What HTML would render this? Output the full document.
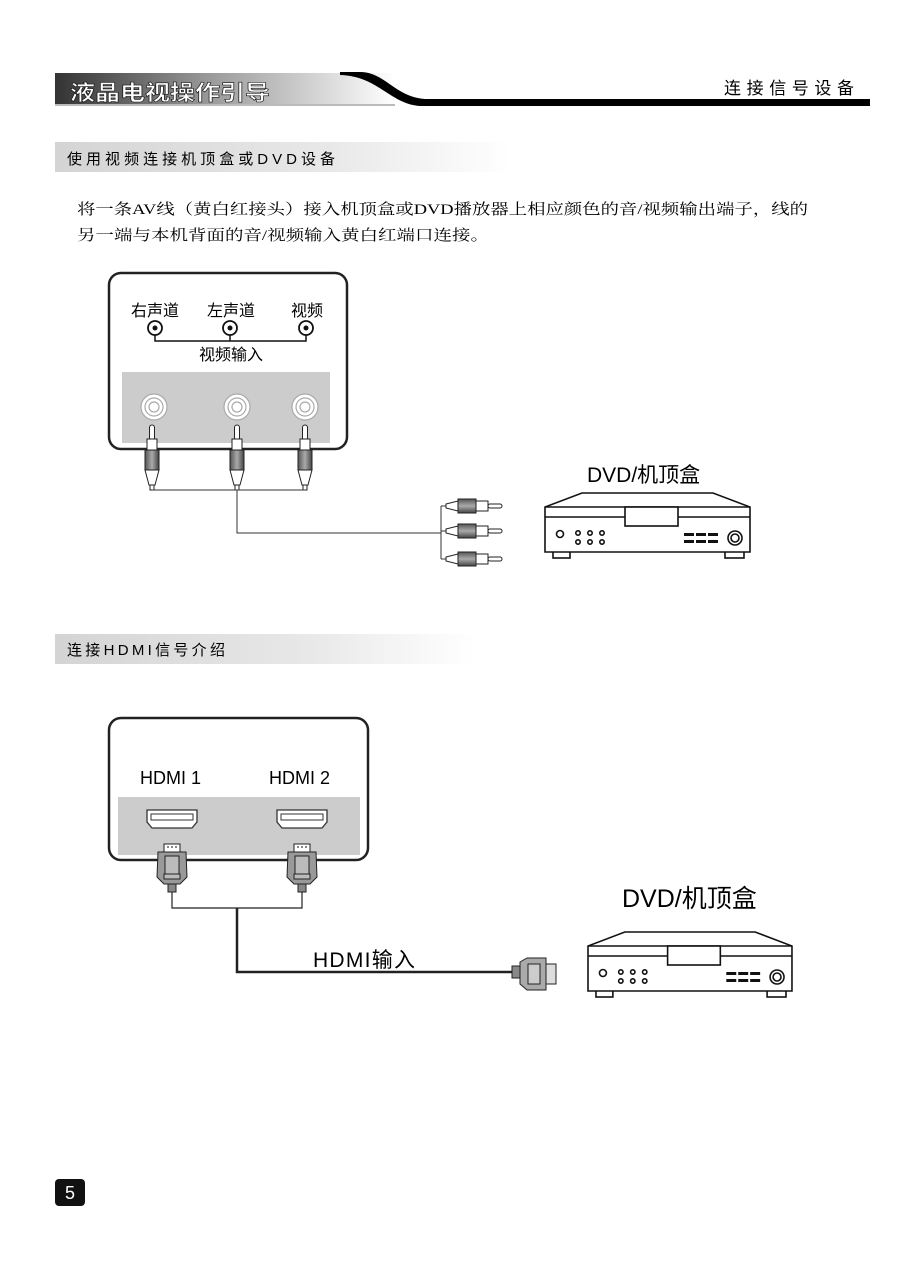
<!DOCTYPE html>
<html><head><meta charset="utf-8"><style>
html,body{margin:0;padding:0;background:#fff}
svg{display:block}
text{font-family:"Liberation Sans","Noto Sans CJK SC",sans-serif}
.serif{font-family:"Liberation Serif","Noto Serif CJK SC",serif}
</style></head><body>
<svg width="922" height="1276" viewBox="0 0 922 1276" xmlns="http://www.w3.org/2000/svg">
<defs>
<linearGradient id="hg" x1="0" x2="1"><stop offset="0" stop-color="#333"/><stop offset="0.45" stop-color="#999"/><stop offset="1" stop-color="#fff"/></linearGradient>
<linearGradient id="sg" x1="0" x2="1"><stop offset="0" stop-color="#d4d4d4"/><stop offset="0.6" stop-color="#e8e8e8"/><stop offset="1" stop-color="#fff"/></linearGradient>
<linearGradient id="rib" x1="0" x2="1"><stop offset="0" stop-color="#555"/><stop offset="0.5" stop-color="#aaa"/><stop offset="1" stop-color="#444"/></linearGradient>
<linearGradient id="ribh" x1="0" y1="0" x2="0" y2="1"><stop offset="0" stop-color="#555"/><stop offset="0.5" stop-color="#aaa"/><stop offset="1" stop-color="#444"/></linearGradient>
<g id="dvd" fill="#fff" stroke="#111" stroke-width="1.6">
<rect x="8" y="61" width="17" height="7"/><rect x="180" y="61" width="19" height="7"/>
<path d="M37 3 L168 3 L205 17 L205 62 L0 62 L0 17 Z"/>
<line x1="0" y1="17" x2="205" y2="17"/><line x1="0" y1="27" x2="205" y2="27"/>
<rect x="80" y="17" width="53" height="19"/>
<circle cx="15" cy="44" r="3.5"/>
<circle cx="33" cy="43" r="2.2"/><circle cx="45" cy="43" r="2.2"/><circle cx="57" cy="43" r="2.2"/>
<circle cx="33" cy="52" r="2.2"/><circle cx="45" cy="52" r="2.2"/><circle cx="57" cy="52" r="2.2"/>
<circle cx="190" cy="48" r="7"/><circle cx="190" cy="48" r="4"/>
<g fill="#111" stroke="none"><rect x="139" y="43" width="10" height="3"/><rect x="151" y="43" width="10" height="3"/><rect x="163" y="43" width="10" height="3"/>
<rect x="139" y="50" width="10" height="3"/><rect x="151" y="50" width="10" height="3"/><rect x="163" y="50" width="10" height="3"/></g>
</g>
<g id="rca" stroke="#222" stroke-width="1">
<rect x="-2.5" y="0" width="5" height="15" rx="2.5" fill="#fff"/>
<rect x="-5" y="14" width="10" height="11" fill="#fff"/>
<rect x="-7" y="25" width="14" height="20" fill="url(#rib)"/>
<path d="M-7 45 L-3 60 L3 60 L7 45 Z" fill="#fff"/>
<rect x="-2" y="60" width="4" height="5" fill="#fff"/>
</g>
<g id="rcah" stroke="#222" stroke-width="1">
<path d="M0 -2 L12 -5 L12 5 L0 2 Z" fill="#fff"/>
<rect x="12" y="-7" width="18" height="14" fill="url(#ribh)"/>
<rect x="30" y="-5" width="12" height="10" fill="#fff"/>
<rect x="42" y="-2" width="14" height="4" rx="2" fill="#fff"/>
</g>
<g id="hdmi" stroke="#222" stroke-width="1">
<rect x="-8" y="0" width="16" height="8" fill="#fff"/>
<rect x="-5" y="2" width="2" height="2" fill="#888" stroke="none"/><rect x="-1" y="2" width="2" height="2" fill="#888" stroke="none"/><rect x="3" y="2" width="2" height="2" fill="#888" stroke="none"/>
<path d="M-14 8 L14 8 L15 33 L8 40 L-8 40 L-15 33 Z" fill="#999"/>
<rect x="-7" y="12" width="14" height="18" fill="#bbb"/>
<rect x="-8" y="30" width="16" height="5" fill="#bbb"/>
<rect x="-4" y="40" width="8" height="8" fill="#888"/>
</g>
</defs>

<!-- header -->
<rect x="55" y="73" width="340" height="33" fill="url(#hg)"/>
<rect x="55" y="104" width="340" height="2" fill="#bbb"/>
<path d="M340 72 L360 72 C385 72 395 97 425 99 L870 99 L870 106 L420 106 C390 104 378 76 340 75 Z" fill="#000"/>
<text x="70" y="100" font-size="21" fill="#fff" font-weight="bold" stroke="#111" stroke-width="0.6" textLength="200" lengthAdjust="spacingAndGlyphs">液晶电视操作引导</text>
<text x="724" y="94" font-size="17" fill="#000" textLength="130" lengthAdjust="spacing">连接信号设备</text>

<!-- section 1 -->
<rect x="55" y="142" width="455" height="30" fill="url(#sg)"/>
<text x="67" y="164" font-size="15" textLength="268" lengthAdjust="spacing">使用视频连接机顶盒或DVD设备</text>
<text class="serif" x="77" y="214" font-size="15" textLength="731" lengthAdjust="spacingAndGlyphs">将一条AV线（黄白红接头）接入机顶盒或DVD播放器上相应颜色的音/视频输出端子，线的</text>
<text class="serif" x="77" y="240" font-size="15" textLength="412" lengthAdjust="spacingAndGlyphs">另一端与本机背面的音/视频输入黄白红端口连接。</text>

<rect x="109" y="273" width="238" height="176" rx="12" fill="#fff" stroke="#222" stroke-width="2.5"/>
<text x="155" y="316" font-size="16" text-anchor="middle">右声道</text>
<text x="231" y="316" font-size="16" text-anchor="middle">左声道</text>
<text x="307" y="316" font-size="16" text-anchor="middle">视频</text>
<g fill="#fff" stroke="#111" stroke-width="1.8">
<circle cx="155" cy="328" r="7"/><circle cx="230" cy="328" r="7"/><circle cx="306" cy="328" r="7"/></g>
<g fill="#111"><circle cx="155" cy="328" r="2.5"/><circle cx="230" cy="328" r="2.5"/><circle cx="306" cy="328" r="2.5"/></g>
<path d="M155 335 V341 H306 V335 M230 335 V341" fill="none" stroke="#111" stroke-width="1.5"/>
<text x="231" y="360" font-size="16" text-anchor="middle">视频输入</text>
<rect x="122" y="372" width="208" height="71" fill="#ccc"/>
<g fill="#fff" stroke="#aaa" stroke-width="1.2">
<circle cx="154" cy="407" r="13"/><circle cx="154" cy="407" r="9"/><circle cx="154" cy="407" r="5"/>
<circle cx="237" cy="407" r="13"/><circle cx="237" cy="407" r="9"/><circle cx="237" cy="407" r="5"/>
<circle cx="305" cy="407" r="13"/><circle cx="305" cy="407" r="9"/><circle cx="305" cy="407" r="5"/></g>
<use href="#rca" x="152" y="425"/><use href="#rca" x="237" y="425"/><use href="#rca" x="305" y="425"/>
<path d="M152 490 H305 M237 490 V533 H441 M441 506 V559 M441 506 H446 M441 531 H446 M441 559 H446" fill="none" stroke="#333" stroke-width="1"/>
<use href="#rcah" x="446" y="506"/><use href="#rcah" x="446" y="531"/><use href="#rcah" x="446" y="559"/>

<text x="587" y="482" font-size="21">DVD/机顶盒</text>
<use href="#dvd" x="545" y="490"/>

<!-- section 2 -->
<rect x="55" y="634" width="420" height="30" fill="url(#sg)"/>
<text x="67" y="655" font-size="15" textLength="158" lengthAdjust="spacing">连接HDMI信号介绍</text>

<rect x="109" y="718" width="259" height="142" rx="12" fill="#fff" stroke="#222" stroke-width="2.5"/>
<text x="140" y="784" font-size="18">HDMI 1</text>
<text x="269" y="784" font-size="18">HDMI 2</text>
<rect x="118" y="797" width="242" height="58" fill="#ccc"/>
<g fill="#fff" stroke="#333" stroke-width="1.3">
<path d="M147 810 H197 V822 L192 828 H152 L147 822 Z"/><path d="M277 810 H327 V822 L322 828 H282 L277 822 Z"/></g>
<g fill="none" stroke="#333" stroke-width="1"><rect x="151" y="814" width="42" height="6"/><rect x="281" y="814" width="42" height="6"/></g>
<use href="#hdmi" x="172" y="844"/><use href="#hdmi" x="302" y="844"/>
<path d="M172 892 V908 H302 V892" fill="none" stroke="#222" stroke-width="1.2"/>
<path d="M237 908 V972 H515" fill="none" stroke="#222" stroke-width="2.5"/>
<g stroke="#222" stroke-width="1">
<rect x="512" y="966" width="8" height="12" fill="#888"/>
<path d="M520 962 L527 958 L546 958 L546 990 L527 990 L520 984 Z" fill="#aaa"/>
<rect x="528" y="964" width="12" height="20" fill="#ccc"/>
<rect x="546" y="964" width="10" height="20" fill="#ddd"/></g>
<text x="313" y="967" font-size="21" textLength="102" lengthAdjust="spacing">HDMI输入</text>

<text x="622" y="907" font-size="25">DVD/机顶盒</text>
<use href="#dvd" transform="translate(588,929) scale(0.995,1.0)"/>

<rect x="55" y="1179" width="30" height="27" rx="4" fill="#111"/>
<text x="70" y="1199" font-size="18" fill="#fff" text-anchor="middle">5</text>
</svg>
</body></html>
